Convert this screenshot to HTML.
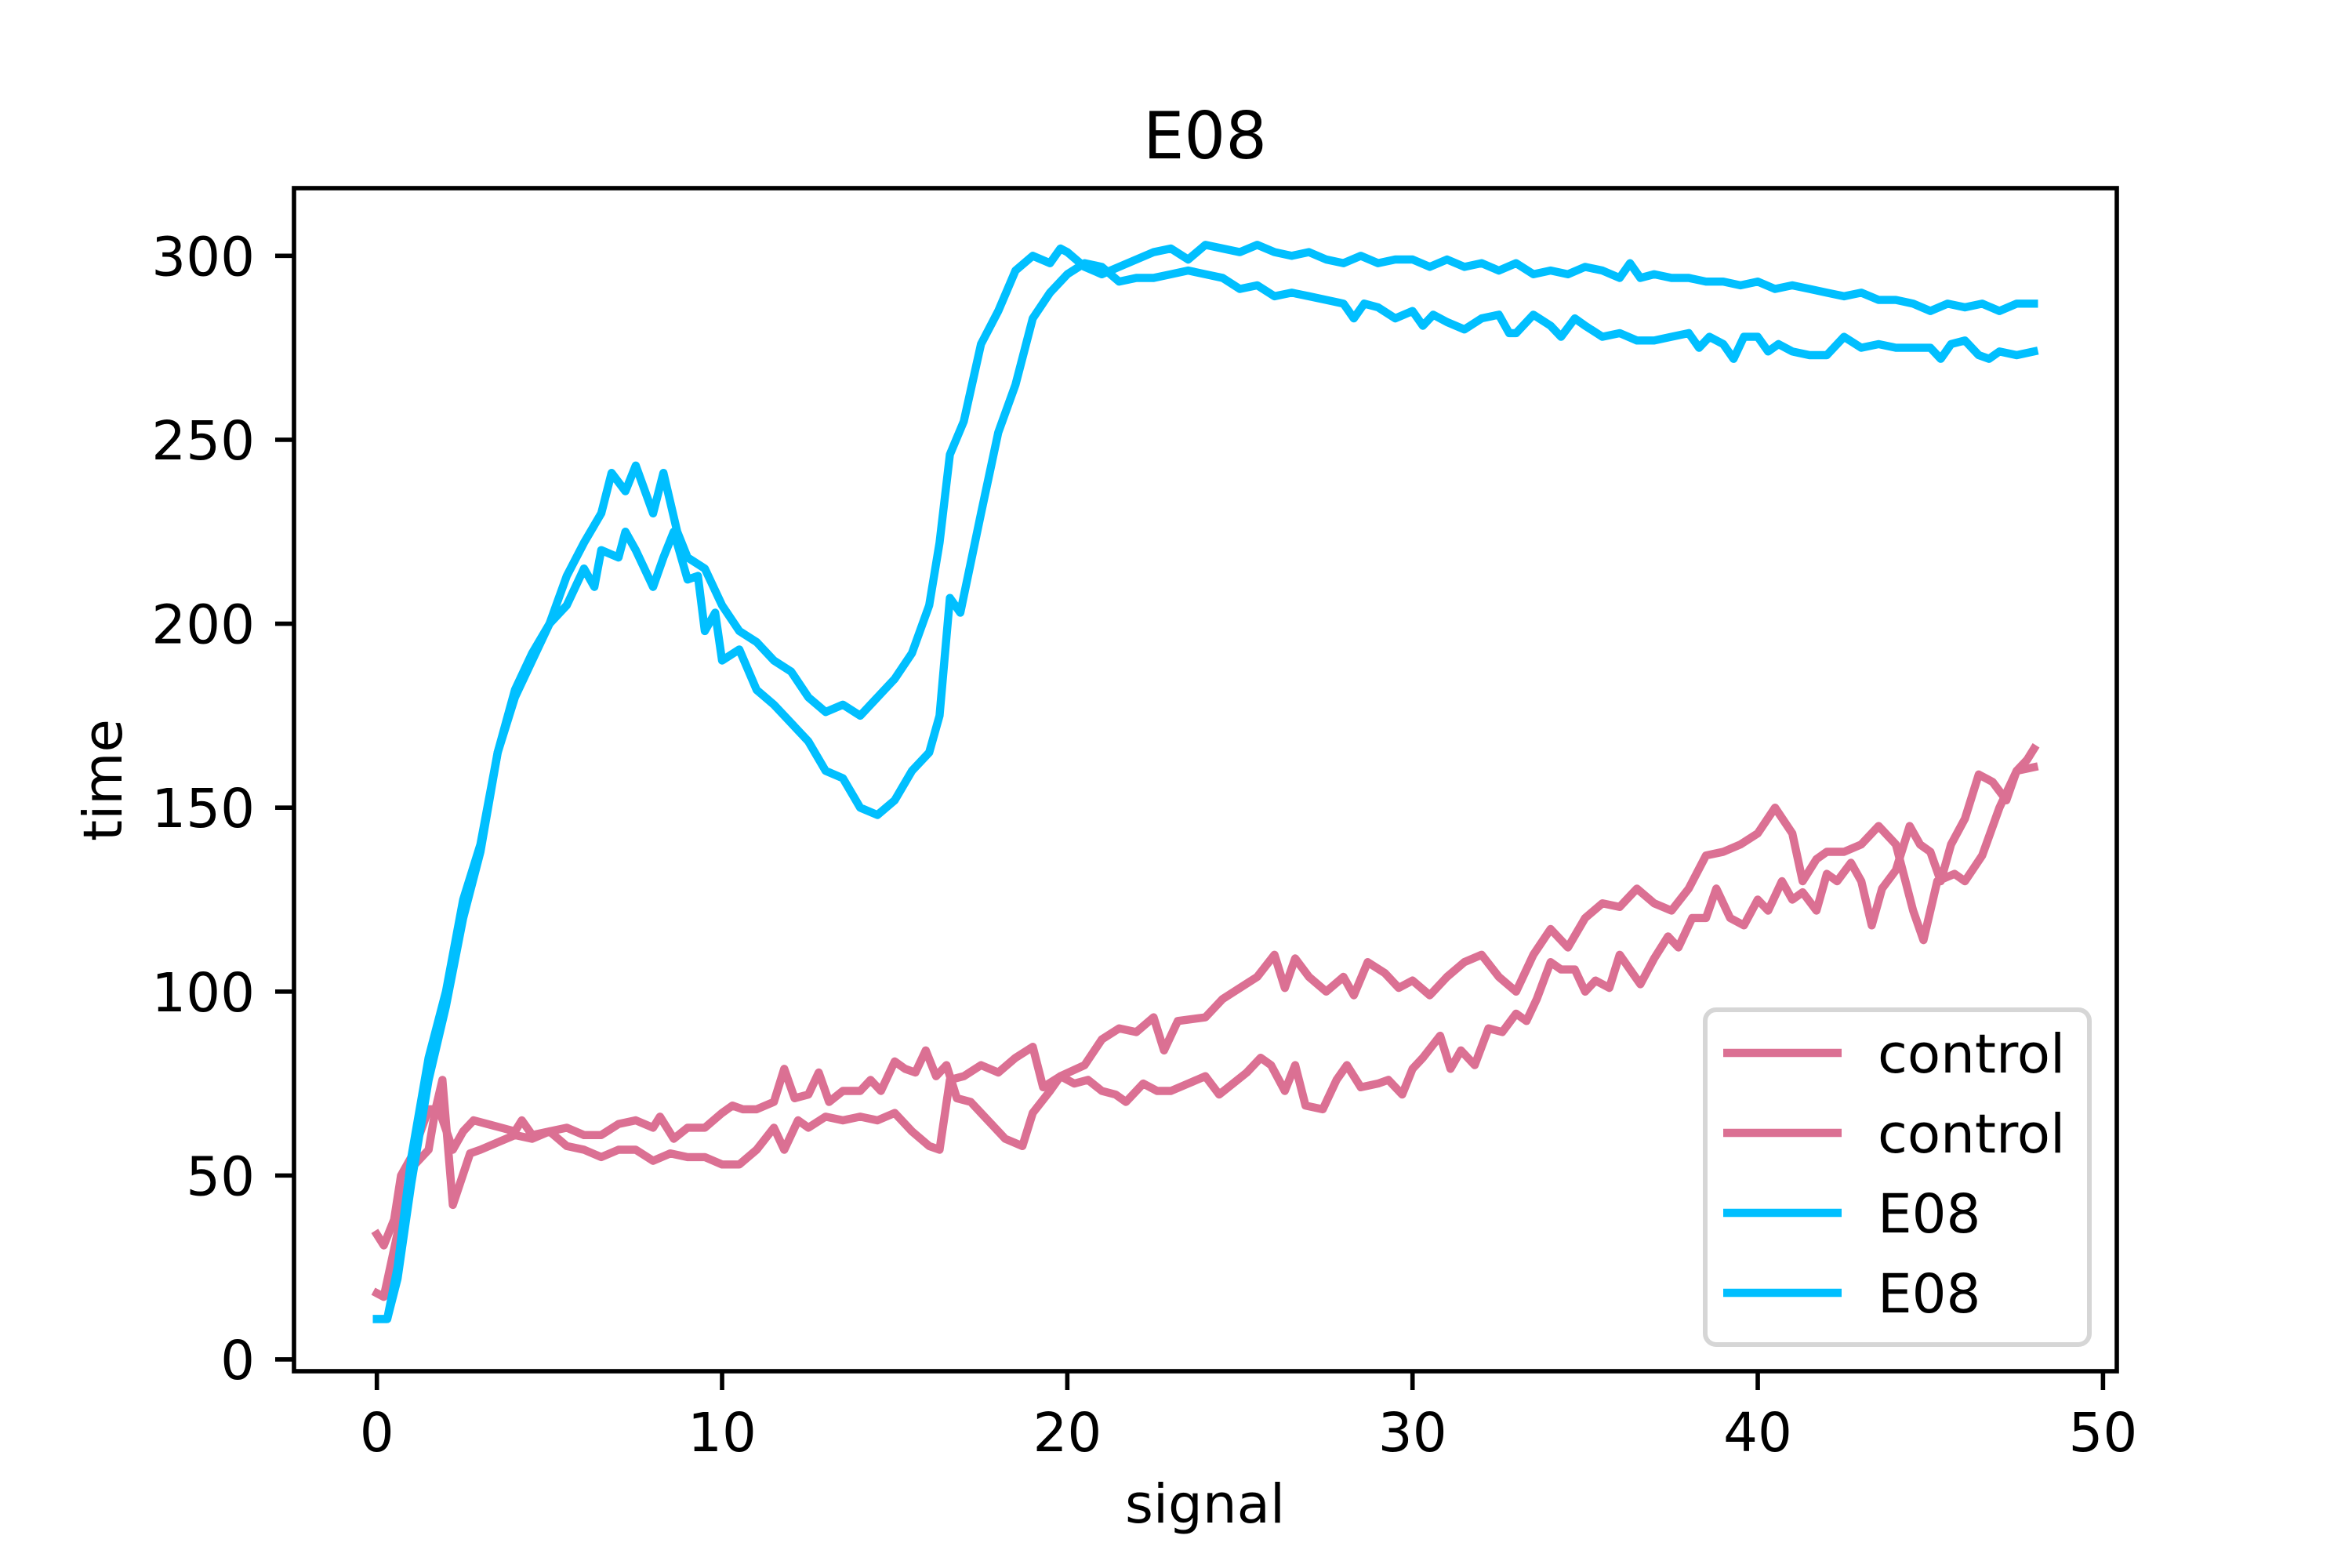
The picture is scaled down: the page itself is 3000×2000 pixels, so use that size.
<!DOCTYPE html>
<html><head><meta charset="utf-8"><style>
html,body{margin:0;padding:0;background:#fff;}
svg{display:block;font-family:"DejaVu Sans","Liberation Sans",sans-serif;}
</style></head><body>
<svg id="chart" width="3000" height="2000" viewBox="0 0 3000 2000" xmlns="http://www.w3.org/2000/svg">
<rect width="3000" height="2000" fill="#fff"/>
<text x="1537" y="202" font-size="83" text-anchor="middle">E08</text>
<g id="plot"></g>
<text x="1537" y="1942" font-size="69" text-anchor="middle">signal</text>
<text transform="translate(155,995) rotate(-90)" font-size="69" text-anchor="middle">time</text>
<g id="legend"></g>
</svg>
<script>
const xTicks = [0, 10, 20, 30, 40, 50];
const yTicks = [0, 50, 100, 150, 200, 250, 300];
const seriesLabels = ["control", "control", "E08", "E08"];

const c1X = [0,0.2,0.5,0.7,1,1.5,1.8,2.2,2.5,2.8,3.2,3.6,4,4.2,4.5,5,5.5,6,6.5,7,7.5,8,8.2,8.6,9,9.5,10,10.3,10.6,11,11.5,11.8,12.1,12.5,12.8,13.1,13.5,14,14.3,14.6,15,15.3,15.6,15.9,16.2,16.5,16.8,17.2,17.6,18,18.2,18.7,19,19.5,19.8,20.2,20.6,21,21.4,21.7,22.2,22.6,23,23.5,24,24.4,24.8,25.2,25.6,25.9,26.3,26.6,26.9,27.4,27.8,28.1,28.5,29,29.3,29.7,30,30.3,30.8,31.1,31.4,31.8,32.2,32.6,33,33.3,33.6,34,34.3,34.7,35,35.3,35.7,36,36.3,36.6,37,37.4,37.7,38.1,38.5,38.8,39.2,39.6,40,40.3,40.7,41,41.3,41.7,42,42.3,42.7,43,43.3,43.6,44,44.4,44.7,45,45.3,45.6,46,46.4,46.8,47.2,47.5,47.8,48];
const c1Y = [34,31,38,50,55,68,68,57,62,65,64,63,62,65,61,62,63,61,61,64,65,63,66,60,63,63,67,69,68,68,70,79,71,72,78,70,73,73,76,73,81,79,78,84,77,80,71,70,66,62,60,58,67,73,77,75,76,73,72,70,75,73,73,75,77,72,75,78,82,80,73,80,69,68,76,80,74,75,76,72,79,82,88,79,84,80,90,89,94,92,98,108,106,106,100,103,101,110,106,102,109,115,112,120,120,128,120,118,125,122,130,125,127,122,132,130,135,130,118,128,133,145,140,138,130,140,147,159,157,152,160,163,166];

const c2X = [0,0.2,0.5,1,1.5,1.7,1.9,2.2,2.7,3,3.5,4,4.5,5,5.5,6,6.5,7,7.5,8,8.5,9,9.5,10,10.5,11,11.5,11.8,12.2,12.5,13,13.5,14,14.5,15,15.5,16,16.3,16.6,17,17.5,18,18.5,19,19.3,19.8,20.5,21,21.5,22,22.5,22.8,23.2,24,24.5,25,25.5,26,26.3,26.6,27,27.5,28,28.3,28.7,29.2,29.6,30,30.5,31,31.5,32,32.5,33,33.5,34,34.5,35,35.5,36,36.5,37,37.5,38,38.5,39,39.5,40,40.5,41,41.3,41.7,42,42.5,43,43.5,44,44.5,44.8,45.2,45.7,46,46.5,47,47.5,48];
const c2Y = [18,17,30,52,57,68,76,42,56,57,59,61,60,62,58,57,55,57,57,54,56,55,55,53,53,57,63,57,65,63,66,65,66,65,67,62,58,57,76,77,80,78,82,85,74,77,80,87,90,89,93,84,92,93,98,101,104,110,101,109,104,100,104,99,108,105,101,103,99,104,108,110,104,100,110,117,112,120,124,123,128,124,122,128,137,138,140,143,150,143,130,136,138,138,140,145,140,122,114,130,132,130,137,150,160,161];

const e1X = [0,0.3,0.6,1,1.5,2,2.5,3,3.5,4,4.5,5,5.5,6,6.5,6.8,7.2,7.5,8,8.3,8.7,9,9.5,10,10.5,11,11.5,12,12.5,13,13.5,14,14.5,15,15.5,16,16.3,16.6,17,17.5,18,18.5,19,19.5,19.8,20,20.5,21,21.5,22,22.5,23,23.5,24,24.5,25,25.5,26,26.5,27,27.5,28,28.5,29,29.5,30,30.5,31,31.5,32,32.5,33,33.5,34,34.5,35,35.5,36,36.3,36.6,37,37.5,38,38.5,39,39.5,40,40.5,41,41.5,42,42.5,43,43.5,44,44.5,45,45.5,46,46.5,47,47.5,48];
const e1Y = [11,11,25,55,82,100,125,140,165,182,192,200,213,222,230,241,236,243,230,241,225,218,215,205,198,195,190,187,180,176,178,175,180,185,192,205,222,246,255,276,285,296,300,298,302,301,297,295,297,299,301,302,299,303,302,301,303,301,300,301,299,298,300,298,299,299,297,299,297,298,296,298,295,296,295,297,296,294,298,294,295,294,294,293,293,292,293,291,292,291,290,289,290,288,288,287,285,287,286,287,285,287,287];

const e2X = [0,0.3,0.6,1,1.5,2,2.5,3,3.5,4,4.5,5,5.5,6,6.3,6.5,7,7.2,7.5,8,8.3,8.6,9,9.3,9.5,9.8,10,10.5,11,11.5,12,12.5,13,13.5,14,14.5,15,15.5,16,16.3,16.6,16.9,17.5,18,18.5,19,19.5,20,20.5,21,21.5,22,22.5,23,23.5,24,24.5,25,25.5,26,26.5,27,27.5,28,28.3,28.6,29,29.5,30,30.3,30.6,31,31.5,32,32.5,32.8,33,33.5,34,34.3,34.7,35,35.5,36,36.5,37,37.5,38,38.3,38.6,39,39.3,39.6,40,40.3,40.6,41,41.5,42,42.5,43,43.5,44,44.5,45,45.3,45.6,46,46.4,46.7,47,47.5,48];
const e2Y = [11,11,22,48,76,96,120,138,165,180,190,200,205,215,210,220,218,225,220,210,218,225,212,213,198,203,190,193,182,178,173,168,160,158,150,148,152,160,165,175,207,203,230,252,265,283,290,295,298,297,293,294,294,295,296,295,294,291,292,289,290,289,288,287,283,287,286,283,285,281,284,282,280,283,284,279,279,284,281,278,283,281,278,279,277,277,278,279,275,278,276,272,278,278,274,276,274,273,273,278,275,276,275,275,275,272,276,277,273,272,274,273,274];

const SVGNS = "http://www.w3.org/2000/svg";
const L = 375, R = 2700, T = 240, B = 1749;
const xMin = -2.4, xMax = 50.4, yMin = -3.2, yMax = 318.4;
function X(v){ return L + (v - xMin) / (xMax - xMin) * (R - L); }
function Y(v){ return B - (v - yMin) / (yMax - yMin) * (B - T); }
function mk(tag, attrs){ const e = document.createElementNS(SVGNS, tag); for (const k in attrs) e.setAttribute(k, attrs[k]); return e; }

const plot = document.getElementById('plot');
const PINK = '#db7093', BLUE = '#00bfff';

function drawLine(xs, ys, color, name){
  let d = '';
  for (let i = 0; i < xs.length; i++) d += (i ? 'L' : 'M') + X(xs[i]).toFixed(1) + ',' + Y(ys[i]).toFixed(1);
  const p = mk('path', {d: d, fill: 'none', stroke: color, 'stroke-width': 10.4, 'stroke-linejoin': 'round', 'stroke-linecap': 'square'});
  
  
  plot.appendChild(p);
}
drawLine(c1X, c1Y, PINK, 'control-line-1');
drawLine(c2X, c2Y, PINK, 'control-line-2');
drawLine(e1X, e1Y, BLUE, 'e08-line-1');
drawLine(e2X, e2Y, BLUE, 'e08-line-2');

const frame = mk('rect', {x: L, y: T, width: R - L, height: B - T, fill: 'none', stroke: '#000', 'stroke-width': 5.6});


plot.appendChild(frame);

xTicks.forEach(function(t){
  const tk = mk('line', {x1: X(t), x2: X(t), y1: B, y2: B + 24, stroke: '#000', 'stroke-width': 5.6});
  
  
  plot.appendChild(tk);
  const lb = mk('text', {x: X(t), y: B + 102, 'font-size': 69, 'text-anchor': 'middle'});
  
  
  lb.textContent = t;
  plot.appendChild(lb);
});
yTicks.forEach(function(t){
  const tk = mk('line', {x1: L - 24, x2: L, y1: Y(t), y2: Y(t), stroke: '#000', 'stroke-width': 5.6});
  
  
  plot.appendChild(tk);
  const lb = mk('text', {x: L - 50, y: Y(t) + 25, 'font-size': 69, 'text-anchor': 'end'});
  
  
  lb.textContent = t;
  plot.appendChild(lb);
});

const leg = document.getElementById('legend');
const box = mk('rect', {x: 2175, y: 1288, width: 490, height: 427, rx: 14, fill: '#fff', 'fill-opacity': 0.8, stroke: '#d6d6d6', 'stroke-width': 6});


leg.appendChild(box);
const legColors = [PINK, PINK, BLUE, BLUE];
seriesLabels.forEach(function(lbl, i){
  const yy = 1343 + i * 102;
  const ln = mk('line', {x1: 2198, x2: 2349, y1: yy, y2: yy, stroke: legColors[i], 'stroke-width': 10.4});
  
  
  leg.appendChild(ln);
  const tx = mk('text', {x: 2395, y: yy + 25, 'font-size': 69});
  
  
  tx.textContent = lbl;
  leg.appendChild(tx);
});
</script>
</body></html>
